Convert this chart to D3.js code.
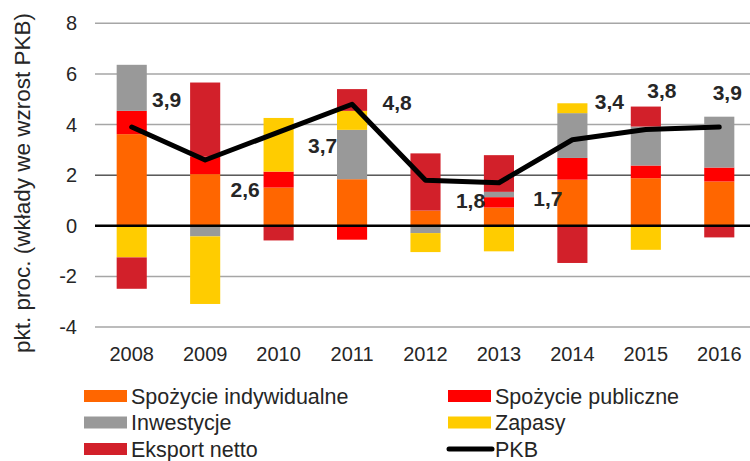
<!DOCTYPE html>
<html>
<head>
<meta charset="utf-8">
<script src="https://cdn.jsdelivr.net/npm/d3@7"></script>
<style>
  body { margin: 0; background: #fff; }
  text { font-family: Arial, "Liberation Sans", sans-serif; fill: #262626; }
</style>
</head>
<body>
<svg id="chart" width="750" height="461"></svg>
<script>
// Data (percentage points).
var years = ['2008', '2009', '2010', '2011', '2012', '2013', '2014', '2015', '2016'];
var consumptionPrivate = [3.62, 2.04, 1.51, 1.84, 0.60, 0.72, 1.82, 1.88, 1.75];
var consumptionPublic  = [0.92, 0.70, 0.63, -0.55, 0.00, 0.41, 0.86, 0.50, 0.55];
var investment         = [1.82, -0.42, 0.00, 1.95, -0.29, 0.21, 1.77, 1.54, 2.01];
var inventories        = [-1.25, -2.67, 2.12, 0.75, -0.75, -1.01, 0.39, -0.95, 0.00];
var netExports         = [-1.24, 2.92, -0.58, 0.86, 2.26, 1.45, -1.47, 0.79, -0.46];
var gdp                = [3.9, 2.6, 3.7, 4.8, 1.8, 1.7, 3.4, 3.8, 3.9];
var gdpLabels          = ['3,9', '2,6', '3,7', '4,8', '1,8', '1,7', '3,4', '3,8', '3,9'];
var yTicks = [-4, -2, 0, 2, 4, 6, 8];

var seriesNames = ['Spożycie indywidualne', 'Spożycie publiczne', 'Inwestycje', 'Zapasy', 'Eksport netto'];
var seriesKeys = ['priv', 'pub', 'inv', 'zap', 'exp'];
var seriesColors = ['#ff6600', '#ff0000', '#999999', '#ffcc00', '#d2202a'];

// Label offsets from the line point (px), placed by hand like in the original.
var labelOffsets = [[35, -20], [40, 37], [44, 21], [45, 6], [45, 28], [49, 23], [37, -31], [16, -32], [8, -27]];

var svg = d3.select('#chart');

var rows = years.map(function(y, i) {
  return {year: y, priv: consumptionPrivate[i], pub: consumptionPublic[i],
          inv: investment[i], zap: inventories[i], exp: netExports[i]};
});

var x = d3.scaleBand().domain(years).range([95, 756]).paddingInner(0.59).paddingOuter(0.295);
var y = d3.scaleLinear().domain([-4, 8]).range([327, 23.3]);

// Grid
svg.append('g').selectAll('line')
  .data(yTicks.filter(function(d) { return d !== 0; }))
  .enter().append('line')
  .attr('x1', 95).attr('x2', 750)
  .attr('y1', function(d) { return y(d); })
  .attr('y2', function(d) { return y(d); })
  .attr('stroke', function(d) { return d === 2 ? '#000' : '#a6a6a6'; })
  .attr('stroke-width', function(d) { return d === 2 ? 1 : 1.5; });

// Y tick labels
svg.append('g').selectAll('text')
  .data(yTicks)
  .enter().append('text')
  .attr('x', 77)
  .attr('y', function(d) { return y(d); })
  .attr('dy', '0.35em')
  .attr('text-anchor', 'end')
  .attr('font-size', 20)
  .text(function(d) { return d; });

// Y title
svg.append('text')
  .attr('transform', 'translate(30,183) rotate(-90)')
  .attr('text-anchor', 'middle')
  .attr('font-size', 22.5)
  .text('pkt. proc. (wkłady we wzrost PKB)');

// Stacked bars
var stack = d3.stack().keys(seriesKeys).offset(d3.stackOffsetDiverging);
var layers = stack(rows);

svg.append('g').selectAll('g')
  .data(layers)
  .enter().append('g')
  .attr('fill', function(d, i) { return seriesColors[i]; })
  .selectAll('rect')
  .data(function(d) { return d; })
  .enter().append('rect')
  .attr('x', function(d) { return x(d.data.year); })
  .attr('width', x.bandwidth())
  .attr('y', function(d) { return y(Math.max(d[0], d[1])); })
  .attr('height', function(d) { return Math.abs(y(d[0]) - y(d[1])); });

// Zero line
svg.append('line')
  .attr('x1', 95).attr('x2', 750)
  .attr('y1', y(0)).attr('y2', y(0))
  .attr('stroke', '#000').attr('stroke-width', 2.5);

// GDP line
var line = d3.line()
  .x(function(d, i) { return x(years[i]) + x.bandwidth() / 2; })
  .y(function(d) { return y(d); });

svg.append('path')
  .datum(gdp)
  .attr('d', line)
  .attr('fill', 'none')
  .attr('stroke', '#000')
  .attr('stroke-width', 5)
  .attr('stroke-linejoin', 'round')
  .attr('stroke-linecap', 'round');

// GDP labels
svg.append('g').selectAll('text')
  .data(gdp)
  .enter().append('text')
  .attr('x', function(d, i) { return x(years[i]) + x.bandwidth() / 2 + labelOffsets[i][0]; })
  .attr('y', function(d, i) { return y(d) + labelOffsets[i][1]; })
  .attr('text-anchor', 'middle')
  .attr('font-size', 21)
  .attr('font-weight', 'bold')
  .text(function(d, i) { return gdpLabels[i]; });

// X labels
svg.append('g').selectAll('text')
  .data(years)
  .enter().append('text')
  .attr('x', function(d) { return x(d) + x.bandwidth() / 2; })
  .attr('y', 361)
  .attr('text-anchor', 'middle')
  .attr('font-size', 20)
  .text(function(d) { return d; });

// Legend
var legendItems = seriesNames.map(function(n, i) { return {name: n, color: seriesColors[i], type: 'bar'}; });
legendItems.push({name: 'PKB', color: '#000', type: 'line'});

var legend = svg.append('g').selectAll('g')
  .data(legendItems)
  .enter().append('g')
  .attr('transform', function(d, i) {
    var col = i % 2, row = Math.floor(i / 2);
    return 'translate(' + (col === 0 ? 84 : 448) + ',' + (396 + row * 26.5) + ')';
  });

legend.filter(function(d) { return d.type === 'bar'; })
  .append('rect')
  .attr('x', 0).attr('y', -6)
  .attr('width', 43).attr('height', 12)
  .attr('fill', function(d) { return d.color; });

legend.filter(function(d) { return d.type === 'line'; })
  .append('line')
  .attr('x1', 1).attr('x2', 44)
  .attr('y1', 0).attr('y2', 0)
  .attr('stroke', '#000').attr('stroke-width', 5)
  .attr('stroke-linecap', 'round');

legend.append('text')
  .attr('x', 47)
  .attr('y', 0)
  .attr('dy', '0.36em')
  .attr('font-size', 21.5)
  .text(function(d) { return d.name; });
</script>
</body>
</html>
